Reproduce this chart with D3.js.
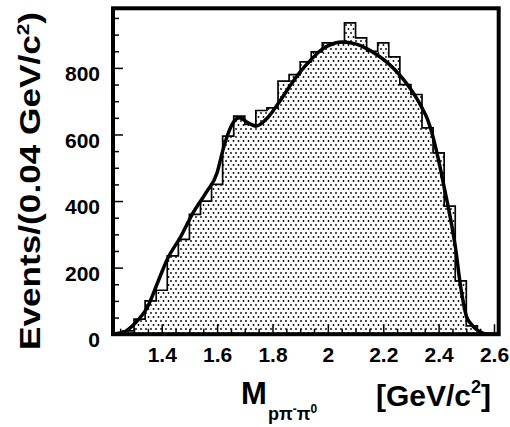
<!DOCTYPE html>
<html>
<head>
<meta charset="utf-8">
<script src="https://cdn.jsdelivr.net/npm/d3@7"></script>
<style>
	body { margin: 0; background: #fff; }
	svg { display: block; }
	text { font-family: "Liberation Sans", Arial, sans-serif; font-weight: bold; fill: #000; }
</style>
</head>
<body>
<svg id="chart"></svg>
<script>
/*
	Data
*/
const binStart = 1.22
const binWidth = 0.04
const counts = [2, 10, 45, 100, 132, 235, 285, 360, 400, 450,
	595, 655, 630, 672, 680, 760, 780, 818, 848, 875,
	875, 935, 890, 850, 875, 833, 750, 720, 620, 545,
	385, 160, 25, 2, 0]

//fit curve, sampled along the mass axis
const fitMass = [1.22, 1.26, 1.30, 1.35, 1.39, 1.42, 1.47, 1.51, 1.56, 1.60, 1.62, 1.64, 1.66, 1.68, 1.71, 1.74, 1.78, 1.82, 1.86, 1.90,
	1.94, 1.97, 2.00, 2.05, 2.10, 2.14, 2.18, 2.22, 2.26, 2.30, 2.34, 2.36, 2.38, 2.40, 2.42, 2.44, 2.46, 2.48, 2.50, 2.52, 2.54, 2.56, 2.58, 2.62]
const fitValue = [0, 5, 30, 84, 165, 225, 295, 360, 425, 485, 550, 603, 638, 650, 636, 625, 648, 692, 742, 788,
	825, 850, 866, 878, 872, 858, 838, 812, 778, 735, 680, 645, 592, 522, 442, 360, 265, 140, 55, 28, 12, 3, 0, 0]

const xTicks = [1.4, 1.6, 1.8, 2.0, 2.2, 2.4, 2.6]
const yTicks = [0, 200, 400, 600, 800]

/*
	Layout
*/
const [width, height] = [510, 427]
const frame = {left: 113, right: 498.7, top: 8.3, bottom: 334.2}

const svg = d3.select('#chart').attr('width', width).attr('height', height)

const x = d3.scaleLinear().domain([1.224, 2.617]).range([frame.left, frame.right])
const y = d3.scaleLinear().domain([0, 979]).range([frame.bottom, frame.top])

//dotted fill of the histogram
const defs = svg.append('defs')
const pat = defs.append('pattern').attr('id', 'dots')
	.attr('patternUnits', 'userSpaceOnUse').attr('width', 5).attr('height', 8)
pat.append('rect').attr('width', 5).attr('height', 8).attr('fill', '#fff')
pat.append('circle').attr('cx', 1).attr('cy', 1).attr('r', 0.9).attr('fill', '#000')
pat.append('circle').attr('cx', 3.5).attr('cy', 5).attr('r', 0.9).attr('fill', '#000')

defs.append('clipPath').attr('id', 'plotclip').append('rect')
	.attr('x', frame.left).attr('y', frame.top)
	.attr('width', frame.right - frame.left).attr('height', frame.bottom - frame.top)

//histogram as step points, with the last edge repeated
const steps = counts.map((c, i) => ({m: binStart + i * binWidth, c}))
steps.push({m: binStart + counts.length * binWidth, c: counts[counts.length - 1]})

const plot = svg.append('g').attr('clip-path', 'url(#plotclip)')

plot.append('path')
	.datum(steps)
	.attr('fill', 'url(#dots)')
	.attr('d', d3.area().curve(d3.curveStepAfter).x(d => x(d.m)).y0(y(0)).y1(d => y(d.c)))

plot.append('path')
	.datum(steps)
	.attr('fill', 'none')
	.attr('stroke', '#000')
	.attr('stroke-width', 1.7)
	.attr('d', d3.line().curve(d3.curveStepAfter).x(d => x(d.m)).y(d => y(d.c)))

//fit line
const fit = fitMass.map((m, i) => ({m, v: fitValue[i]}))
plot.append('path')
	.datum(fit)
	.attr('fill', 'none')
	.attr('stroke', '#000')
	.attr('stroke-width', 3.5)
	.attr('stroke-linejoin', 'round')
	.attr('d', d3.line().curve(d3.curveMonotoneX).x(d => x(d.m)).y(d => y(d.v)))

/*
	Axes: ticks point inward
*/
const yAxis = d3.axisLeft(y).tickValues(yTicks).tickSize(-10).tickPadding(13).tickFormat(d3.format('d'))
const yMinor = d3.axisLeft(y).tickValues(d3.range(50, 979, 50).filter(v => v % 200 !== 0)).tickSize(-6).tickFormat('')
const xAxis = d3.axisBottom(x).tickValues(xTicks).tickSize(-10).tickPadding(13).tickFormat(d => d3.format('~g')(d))
const xMinor = d3.axisBottom(x).tickValues(d3.range(1.25, 2.62, 0.05).filter(v => Math.abs(v * 5 - Math.round(v * 5)) > 0.01)).tickSize(-5.5).tickFormat('')

function styleAxis(g, size) {
	g.select('.domain').remove()
	g.selectAll('line').attr('stroke', '#000').attr('stroke-width', 1.5)
	g.attr('font-size', size).attr('font-family', '"Liberation Sans", Arial, sans-serif').attr('font-weight', 'bold')
}

svg.append('g').attr('transform', `translate(${frame.left},0)`).call(yMinor).call(g => styleAxis(g, 21))
svg.append('g').attr('transform', `translate(${frame.left},0)`).call(yAxis).call(g => styleAxis(g, 21))
	.selectAll('text').attr('dy', '0.6em')
svg.append('g').attr('transform', `translate(0,${frame.bottom})`).call(xMinor).call(g => styleAxis(g, 21))
svg.append('g').attr('transform', `translate(0,${frame.bottom})`).call(xAxis).call(g => styleAxis(g, 21))

//frame
svg.append('rect')
	.attr('x', frame.left).attr('y', frame.top)
	.attr('width', frame.right - frame.left).attr('height', frame.bottom - frame.top)
	.attr('fill', 'none').attr('stroke', '#000').attr('stroke-width', 4)

/*
	Titles
*/
const yTitle = svg.append('text')
	.attr('transform', 'translate(40,181) rotate(-90)')
	.attr('text-anchor', 'middle')
	.attr('textLength', 338).attr('lengthAdjust', 'spacingAndGlyphs')
	.style('font-size', '29px')
yTitle.append('tspan').text('Events/(0.04 GeV/c')
yTitle.append('tspan').attr('dy', -11).style('font-size', '17px').text('2')
yTitle.append('tspan').attr('dy', 11).text(')')

svg.append('text').attr('x', 241).attr('y', 404).style('font-size', '31px').text('M')
const sub = svg.append('text').attr('x', 268).attr('y', 420).style('font-size', '18px')
sub.append('tspan').text('pπ')
sub.append('tspan').attr('dy', -7).style('font-size', '12px').text('-')
sub.append('tspan').attr('dy', 7).text('π')
sub.append('tspan').attr('dy', -7).style('font-size', '12px').text('0')

const unit = svg.append('text').attr('x', 376).attr('y', 406).style('font-size', '30px')
unit.append('tspan').text('[GeV/c')
unit.append('tspan').attr('dy', -13).style('font-size', '18px').text('2')
unit.append('tspan').attr('dy', 13).text(']')
</script>
</body>
</html>
